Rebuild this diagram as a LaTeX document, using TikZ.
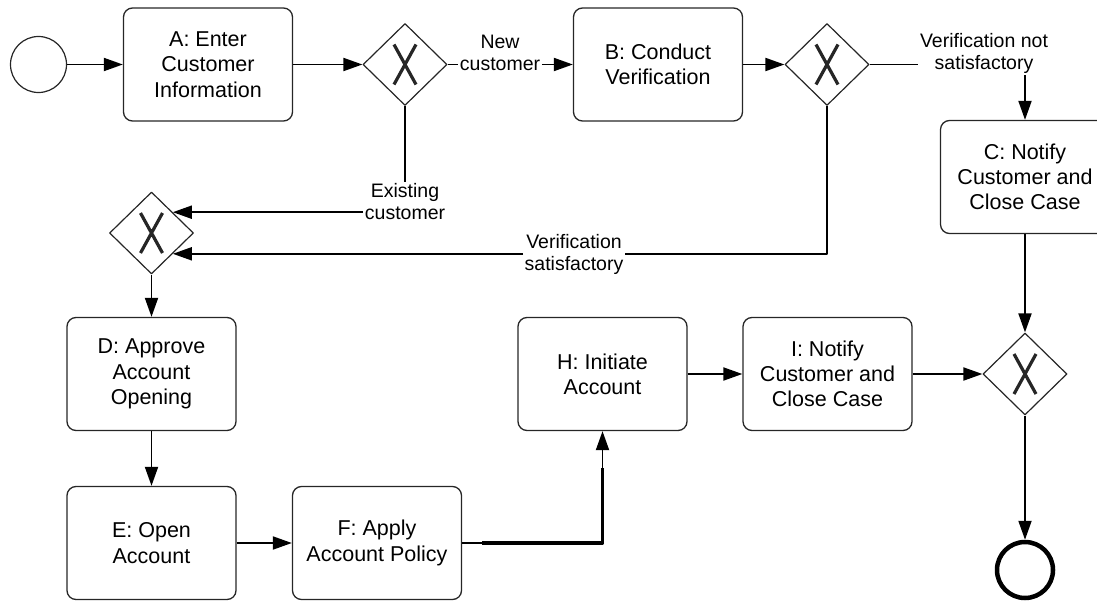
\documentclass[tikz,border=0pt]{standalone}
\usepackage{fontspec}
\setmainfont{Liberation Sans}
\usetikzlibrary{shapes.geometric,arrows.meta,calc}
\begin{document}
\begin{tikzpicture}[x=1pt, y=-1pt, line join=round, >={Triangle[length=19pt,width=13pt]},
	task/.style={draw=black!85, line width=1.3pt, rounded corners=9pt, minimum width=169pt, minimum height=113pt, inner sep=0pt, align=center, font=\fontsize{21.5}{25.3}\selectfont},
	gate/.style={diamond, draw=black!85, line width=1.2pt, minimum width=84pt, minimum height=82pt, inner sep=0pt,
		path picture={\draw[line width=3.2pt]
			([shift={(-11pt,20pt)}]path picture bounding box.center)--([shift={(11pt,-20pt)}]path picture bounding box.center)
			([shift={(11pt,20pt)}]path picture bounding box.center)--([shift={(-11pt,-20pt)}]path picture bounding box.center);}},
	lbl/.style={align=center, inner sep=1.5pt, font=\fontsize{19.5}{22}\selectfont},
	flow/.style={line width=1.9pt}]
	\useasboundingbox (0,0) rectangle (1097,602);
	\clip (0,0) rectangle (1097,602);
	% events
	\node[circle, draw=black!85, line width=1.2pt, minimum size=56pt, inner sep=0pt] (start) at (38.5,64.5) {};
	\node[circle, draw, line width=4.5pt, minimum size=56pt, inner sep=0pt] (end) at (1025,570) {};
	% tasks
	\foreach \n/\x/\y/\t in {
		a/208/64.5/{A: Enter\\Customer\\Information},
		b/658/64.5/{B: Conduct\\Verification},
		c/1025/177/{C: Notify\\Customer and\\Close Case},
		d/151.5/374/{D: Approve\\Account\\Opening},
		e/151.5/543/{E: Open\\Account},
		f/377/543/{F: Apply\\Account Policy},
		h/602.5/374/{H: Initiate\\Account},
		i/827.5/374/{I: Notify\\Customer and\\Close Case}}
		\node[task] (\n) at (\x,\y) {\t};
	% gateways
	\foreach \n/\x/\y in {g1/405/64.5, g2/827/64.5, g3/1025/374, g4/151.5/233}
		\node[gate] (\n) at (\x,\y) {};
	\path ($(g4.north)!0.5!(g4.east)$) coordinate (g4ne)
		($(g4.south)!0.5!(g4.east)$) coordinate (g4se)
		([yshift=-37pt]h.south) coordinate (hk)
		([xshift=20pt]f.east) coordinate (fk);
	% labels
	\node[lbl] (lblNew) at (500,53) {New\\customer};
	\node[lbl] (lblVn) at (984,53.5) {Verification not\\satisfactory};
	\node[lbl] (lblEx) at (405,201.5) {Existing\\customer};
	\node[lbl] (lblVs) at (574,254) {Verification\\satisfactory};
	% flows
	\draw[flow,->] (start)--(a);
	\draw[flow,->] (a)--(g1);
	\draw[flow] (g1.east)--(g1.east-|lblNew.west);
	\draw[flow,->] (g1.east-|lblNew.east)--(b);
	\draw[flow,->] (b)--(g2);
	\draw[flow] (g2.east)--(g2.east-|lblVn.west);
	\draw[flow,->] (lblVn.south-|c.north)--(c);
	\draw[flow,->] (c)--(g3);
	\draw[flow,->] (g3)--(end);
	\draw[flow] (g1)--(lblEx);
	\draw[flow,->] (lblEx.west|-g4ne)--(g4ne);
	\draw[flow] (g2)|-(lblVs.east|-g4se);
	\draw[flow,->] (lblVs.west|-g4se)--(g4se);
	\draw[flow,->] (g4)--(d);
	\draw[flow,->] (d)--(e);
	\draw[flow,->] (e)--(f);
	\draw[flow] (f.east)--([xshift=12pt]fk);
	\draw[line width=3.6pt] (fk)-|(hk);
	\draw[flow,->] (hk)--(h);
	\draw[flow,->] (h)--(i);
	\draw[flow,->] (i)--(g3);
\end{tikzpicture}
\end{document}
